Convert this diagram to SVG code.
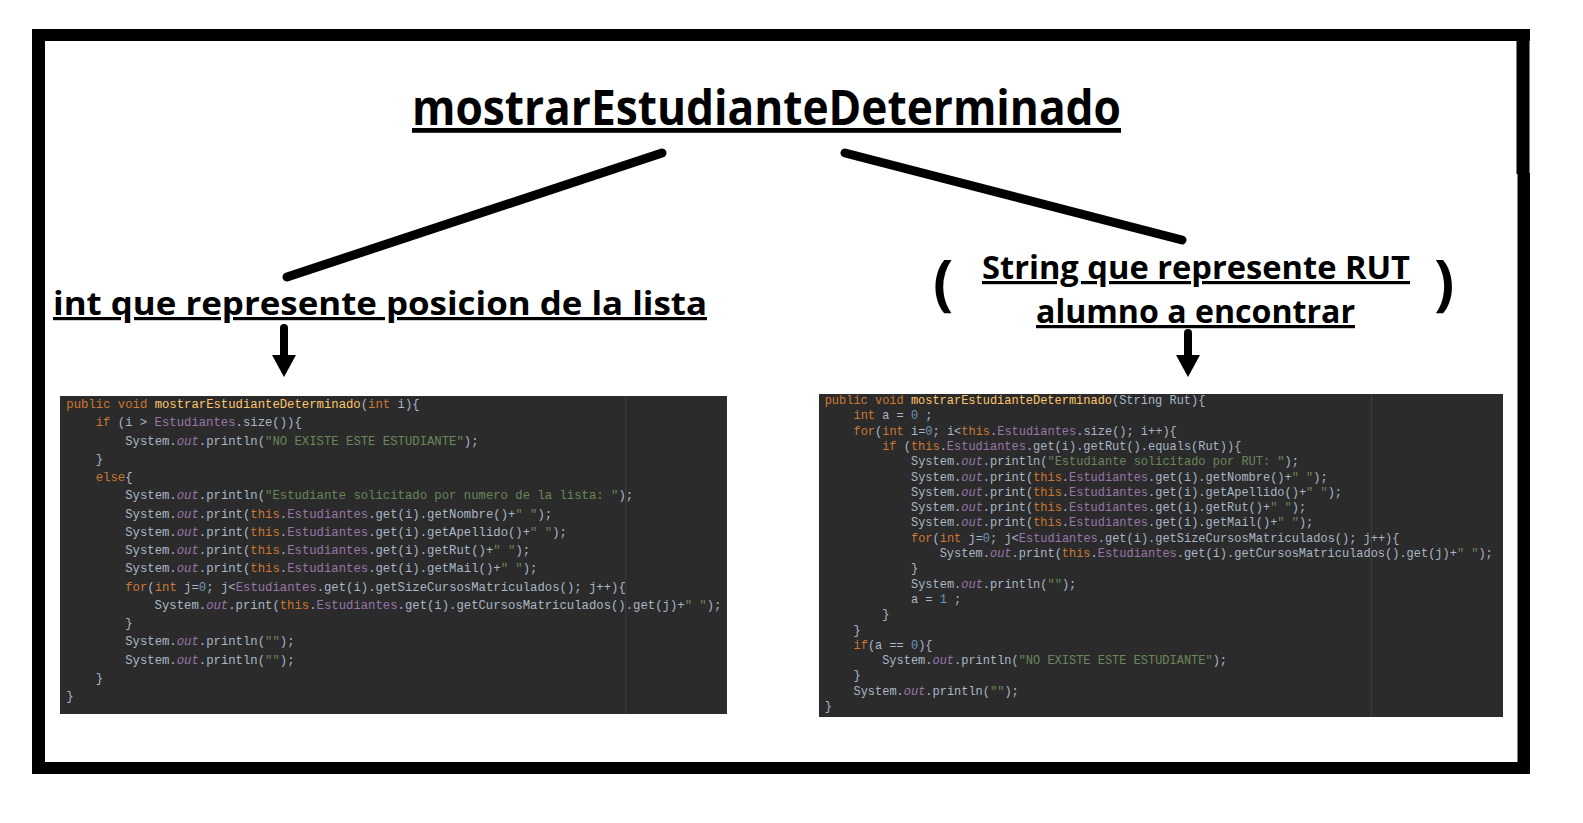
<svg xmlns="http://www.w3.org/2000/svg" width="1583" height="823" viewBox="0 0 1583 823">
<defs>
<style>
.lbl{font-family:"Open Sans","Noto Sans","Liberation Sans",sans-serif;font-weight:700;fill:#000;text-decoration:underline;}
.par{font-family:"Open Sans","Noto Sans","Liberation Sans",sans-serif;font-weight:700;fill:#000;}
.code{font-family:"Liberation Mono","DejaVu Sans Mono",monospace;fill:#a9b7c6;white-space:pre;}
.cl{font-size:12.27px;}
.cr{font-size:11.98px;}
.k{fill:#cc7832;}
.m{fill:#ffc66d;}
.f{fill:#9876aa;}
.o{fill:#9876aa;font-style:italic;}
.s{fill:#6a8759;}
.n{fill:#6897bb;}
.bg{fill:#2b2b2b;}
.guide{stroke:#3e3e3e;stroke-width:1;}
.conn{stroke:#000;stroke-width:9;stroke-linecap:round;fill:none;}
.arr{stroke:#000;stroke-width:8;stroke-linecap:round;fill:none;}
</style>
<marker id="head" markerUnits="userSpaceOnUse" viewBox="0 0 22 24" refX="0" refY="12" markerWidth="22" markerHeight="24" orient="auto">
<path d="M0,0 L22,12 L0,24 z" fill="#000"/>
</marker>
</defs>
<rect x="0" y="0" width="1583" height="823" fill="#fff"/>
<g id="frame" fill="#000">
<rect x="32" y="29" width="1498" height="12"/>
<rect x="32" y="29" width="13" height="745"/>
<rect x="32" y="762" width="1498" height="12"/>
<rect x="1516.5" y="29" width="13" height="145"/>
<rect x="1517.5" y="173" width="12.5" height="601"/>
</g>
<g id="title">
<text class="lbl" x="412" y="125" font-size="48" textLength="709" lengthAdjust="spacingAndGlyphs">mostrarEstudianteDeterminado</text>
</g>
<g id="label-left">
<text class="lbl" x="53" y="315" font-size="32" textLength="654" lengthAdjust="spacingAndGlyphs">int que represente posicion de la lista</text>
</g>
<g id="label-right">
<text class="par" x="933" y="304" font-size="60">(</text>
<text class="lbl" x="982" y="279" font-size="32" textLength="428" lengthAdjust="spacingAndGlyphs">String que represente RUT</text>
<text class="lbl" x="1036" y="323" font-size="32" textLength="319" lengthAdjust="spacingAndGlyphs">alumno a encontrar</text>
<text class="par" x="1434" y="304" font-size="60">)</text>
</g>
<g id="connectors">
<line class="conn" x1="662" y1="153" x2="287" y2="277"/>
<line class="conn" x1="845" y1="153" x2="1182" y2="240"/>
<line class="arr" x1="284" y1="328" x2="284" y2="355" marker-end="url(#head)"/>
<line class="arr" x1="1188" y1="333" x2="1188" y2="355" marker-end="url(#head)"/>
</g>
<g id="code-left">
<rect class="bg" x="60" y="396" width="667" height="318"/>
<line class="guide" x1="625.7" y1="396" x2="625.7" y2="714"/>
<text class="code cl" xml:space="preserve"><tspan x="66.3" y="408"><tspan class="k">public void </tspan><tspan class="m">mostrarEstudianteDeterminado</tspan>(<tspan class="k">int </tspan>i){</tspan><tspan x="95.7" y="426.25"><tspan class="k">if </tspan>(i &gt; <tspan class="f">Estudiantes</tspan>.size()){</tspan><tspan x="125.2" y="444.5">System.<tspan class="o">out</tspan>.println(<tspan class="s">"NO EXISTE ESTE ESTUDIANTE"</tspan>);</tspan><tspan x="95.7" y="462.75">}</tspan><tspan x="95.7" y="481"><tspan class="k">else</tspan>{</tspan><tspan x="125.2" y="499.25">System.<tspan class="o">out</tspan>.println(<tspan class="s">"Estudiante solicitado por numero de la lista: "</tspan>);</tspan><tspan x="125.2" y="517.5">System.<tspan class="o">out</tspan>.print(<tspan class="k">this</tspan>.<tspan class="f">Estudiantes</tspan>.get(i).getNombre()+<tspan class="s">" "</tspan>);</tspan><tspan x="125.2" y="535.75">System.<tspan class="o">out</tspan>.print(<tspan class="k">this</tspan>.<tspan class="f">Estudiantes</tspan>.get(i).getApellido()+<tspan class="s">" "</tspan>);</tspan><tspan x="125.2" y="554">System.<tspan class="o">out</tspan>.print(<tspan class="k">this</tspan>.<tspan class="f">Estudiantes</tspan>.get(i).getRut()+<tspan class="s">" "</tspan>);</tspan><tspan x="125.2" y="572.25">System.<tspan class="o">out</tspan>.print(<tspan class="k">this</tspan>.<tspan class="f">Estudiantes</tspan>.get(i).getMail()+<tspan class="s">" "</tspan>);</tspan><tspan x="125.2" y="590.5"><tspan class="k">for</tspan>(<tspan class="k">int </tspan>j=<tspan class="n">0</tspan>; j&lt;<tspan class="f">Estudiantes</tspan>.get(i).getSizeCursosMatriculados(); j++){</tspan><tspan x="154.6" y="608.75">System.<tspan class="o">out</tspan>.print(<tspan class="k">this</tspan>.<tspan class="f">Estudiantes</tspan>.get(i).getCursosMatriculados().get(j)+<tspan class="s">" "</tspan>);</tspan><tspan x="125.2" y="627">}</tspan><tspan x="125.2" y="645.25">System.<tspan class="o">out</tspan>.println(<tspan class="s">""</tspan>);</tspan><tspan x="125.2" y="663.5">System.<tspan class="o">out</tspan>.println(<tspan class="s">""</tspan>);</tspan><tspan x="95.7" y="681.75">}</tspan><tspan x="66.3" y="700">}</tspan></text>
</g>
<g id="code-right">
<rect class="bg" x="819" y="394" width="684" height="323"/>
<line class="guide" x1="1371.5" y1="394" x2="1371.5" y2="717"/>
<text class="code cr" xml:space="preserve"><tspan x="824.7" y="404"><tspan class="k">public void </tspan><tspan class="m">mostrarEstudianteDeterminado</tspan>(String Rut){</tspan><tspan x="853.5" y="419.3"><tspan class="k">int </tspan>a = <tspan class="n">0</tspan> ;</tspan><tspan x="853.5" y="434.6"><tspan class="k">for</tspan>(<tspan class="k">int </tspan>i=<tspan class="n">0</tspan>; i&lt;<tspan class="k">this</tspan>.<tspan class="f">Estudiantes</tspan>.size(); i++){</tspan><tspan x="882.2" y="449.9"><tspan class="k">if </tspan>(<tspan class="k">this</tspan>.<tspan class="f">Estudiantes</tspan>.get(i).getRut().equals(Rut)){</tspan><tspan x="911" y="465.2">System.<tspan class="o">out</tspan>.println(<tspan class="s">"Estudiante solicitado por RUT: "</tspan>);</tspan><tspan x="911" y="480.5">System.<tspan class="o">out</tspan>.print(<tspan class="k">this</tspan>.<tspan class="f">Estudiantes</tspan>.get(i).getNombre()+<tspan class="s">" "</tspan>);</tspan><tspan x="911" y="495.8">System.<tspan class="o">out</tspan>.print(<tspan class="k">this</tspan>.<tspan class="f">Estudiantes</tspan>.get(i).getApellido()+<tspan class="s">" "</tspan>);</tspan><tspan x="911" y="511.1">System.<tspan class="o">out</tspan>.print(<tspan class="k">this</tspan>.<tspan class="f">Estudiantes</tspan>.get(i).getRut()+<tspan class="s">" "</tspan>);</tspan><tspan x="911" y="526.4">System.<tspan class="o">out</tspan>.print(<tspan class="k">this</tspan>.<tspan class="f">Estudiantes</tspan>.get(i).getMail()+<tspan class="s">" "</tspan>);</tspan><tspan x="911" y="541.7"><tspan class="k">for</tspan>(<tspan class="k">int </tspan>j=<tspan class="n">0</tspan>; j&lt;<tspan class="f">Estudiantes</tspan>.get(i).getSizeCursosMatriculados(); j++){</tspan><tspan x="939.7" y="557">System.<tspan class="o">out</tspan>.print(<tspan class="k">this</tspan>.<tspan class="f">Estudiantes</tspan>.get(i).getCursosMatriculados().get(j)+<tspan class="s">" "</tspan>);</tspan><tspan x="911" y="572.3">}</tspan><tspan x="911" y="587.6">System.<tspan class="o">out</tspan>.println(<tspan class="s">""</tspan>);</tspan><tspan x="911" y="602.9">a = <tspan class="n">1</tspan> ;</tspan><tspan x="882.2" y="618.2">}</tspan><tspan x="853.5" y="633.5">}</tspan><tspan x="853.5" y="648.8"><tspan class="k">if</tspan>(a == <tspan class="n">0</tspan>){</tspan><tspan x="882.2" y="664.1">System.<tspan class="o">out</tspan>.println(<tspan class="s">"NO EXISTE ESTE ESTUDIANTE"</tspan>);</tspan><tspan x="853.5" y="679.4">}</tspan><tspan x="853.5" y="694.7">System.<tspan class="o">out</tspan>.println(<tspan class="s">""</tspan>);</tspan><tspan x="824.7" y="710">}</tspan></text>
</g>
</svg>
